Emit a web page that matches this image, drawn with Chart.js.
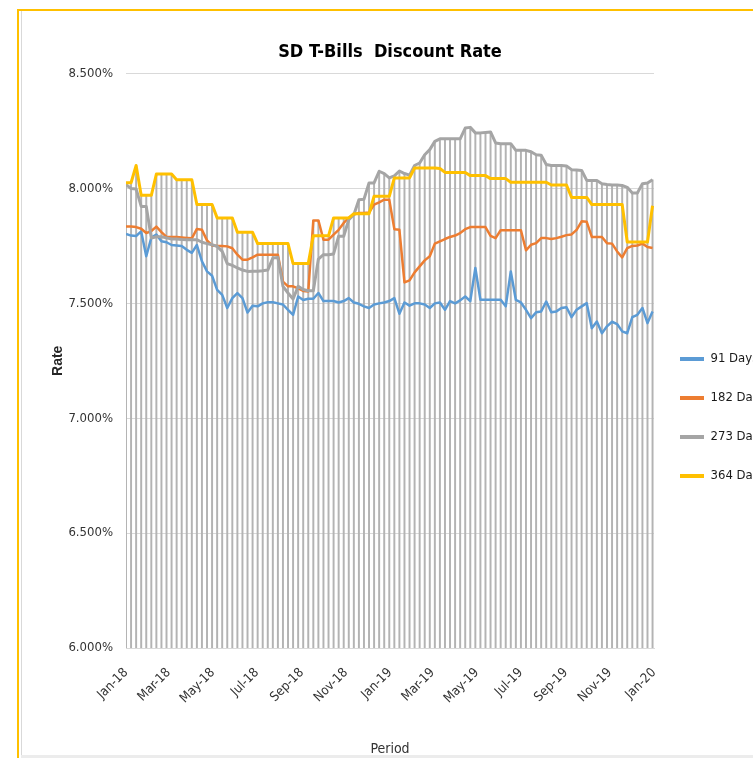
<!DOCTYPE html>
<html>
<head>
<meta charset="utf-8">
<title>SD T-Bills Discount Rate</title>
<script src="https://cdn.jsdelivr.net/npm/chart.js@4.4.1/dist/chart.umd.min.js"></script>
<style>
  html, body { margin: 0; padding: 0; width: 753px; height: 758px; overflow: hidden; background: #fff; }
  .frame { position: absolute; left: 17px; top: 9px; width: 760px; height: 760px; border-top: 2px solid #ffc000; border-left: 2px solid #ffc000; }
  .frame-inner { position: absolute; left: 2px; top: 0; bottom: 0; border-left: 1px solid #d9d9d9; }
  .frame-bottom { position: absolute; left: 21px; top: 755px; width: 740px; height: 3px; background: #ececec; }
  #chart { position: absolute; left: 0; top: 0; }
</style>
</head>
<body>
<div class="frame"><div class="frame-inner"></div></div>
<div class="frame-bottom"></div>
<canvas id="chart" width="800" height="758"></canvas>
<script>
// Weekly auction rates, Jan 2018 - Jan 2020 (percent)
const days91 = [
  7.802, 7.795, 7.793, 7.813, 7.705, 7.786, 7.80, 7.77, 7.766, 7.754,
  7.752, 7.75, 7.733, 7.72, 7.754, 7.683, 7.639, 7.62, 7.559, 7.537,
  7.48, 7.523, 7.545, 7.523, 7.46, 7.49, 7.487, 7.50, 7.505, 7.505,
  7.50, 7.495, 7.472, 7.45, 7.53, 7.515, 7.52, 7.52, 7.545, 7.51,
  7.51, 7.51, 7.504, 7.51, 7.523, 7.504, 7.498, 7.487, 7.48, 7.495,
  7.50, 7.504, 7.51, 7.523, 7.455, 7.504, 7.49, 7.50, 7.50, 7.495,
  7.48, 7.50, 7.504, 7.472, 7.51, 7.50, 7.513, 7.53, 7.51, 7.654,
  7.516, 7.516, 7.516, 7.516, 7.516, 7.487, 7.639, 7.515, 7.504, 7.472,
  7.436, 7.461, 7.465, 7.508, 7.461, 7.465, 7.48, 7.483, 7.44, 7.472,
  7.487, 7.501, 7.392, 7.421, 7.37, 7.40, 7.42, 7.41, 7.378, 7.37,
  7.44, 7.45, 7.48, 7.414, 7.465,
];
const days182 = [
  7.835, 7.835, 7.832, 7.825, 7.806, 7.815, 7.834, 7.81, 7.789, 7.789,
  7.789, 7.787, 7.785, 7.783, 7.824, 7.82, 7.774, 7.752, 7.75, 7.75,
  7.748, 7.74, 7.712, 7.69, 7.69, 7.70, 7.712, 7.712, 7.712, 7.712,
  7.712, 7.595, 7.574, 7.574, 7.565, 7.554, 7.552, 7.861, 7.861, 7.777,
  7.777, 7.799, 7.82, 7.85, 7.872, 7.886, 7.893, 7.893, 7.895, 7.93,
  7.94, 7.951, 7.951, 7.823, 7.82, 7.591, 7.60, 7.635, 7.661, 7.687,
  7.705, 7.76, 7.77, 7.78, 7.789, 7.795, 7.806, 7.823, 7.832, 7.832,
  7.832, 7.832, 7.794, 7.784, 7.818, 7.818, 7.818, 7.818, 7.818, 7.731,
  7.755, 7.762, 7.784, 7.784, 7.78, 7.784, 7.79, 7.797, 7.80, 7.82,
  7.857, 7.855, 7.789, 7.789, 7.789, 7.762, 7.76, 7.726, 7.70, 7.74,
  7.75, 7.752, 7.76, 7.745, 7.741,
];
const days273 = [
  8.017, 8.0, 7.998, 7.922, 7.922, 7.784, 7.79, 7.79, 7.785, 7.78,
  7.78, 7.778, 7.777, 7.777, 7.777, 7.766, 7.76, 7.755, 7.748, 7.726,
  7.673, 7.665, 7.654, 7.645, 7.639, 7.64, 7.64, 7.642, 7.645, 7.697,
  7.70, 7.574, 7.545, 7.519, 7.574, 7.56, 7.555, 7.555, 7.693, 7.712,
  7.712, 7.715, 7.792, 7.792, 7.864, 7.886, 7.951, 7.953, 8.024, 8.024,
  8.075, 8.065, 8.046, 8.055, 8.076, 8.065, 8.058, 8.10, 8.111, 8.147,
  8.169, 8.205, 8.216, 8.216, 8.216, 8.216, 8.216, 8.263, 8.266, 8.242,
  8.242, 8.244, 8.246, 8.198, 8.195, 8.195, 8.195, 8.166, 8.166, 8.166,
  8.16, 8.147, 8.145, 8.104, 8.10, 8.10, 8.10, 8.098, 8.082, 8.08,
  8.078, 8.035, 8.035, 8.035, 8.021, 8.017, 8.015, 8.015, 8.013, 8.005,
  7.98, 7.98, 8.021, 8.024, 8.038,
];
const days364 = [
  8.025, 8.025, 8.10, 7.97, 7.97, 7.97, 8.063, 8.063, 8.063, 8.063,
  8.038, 8.038, 8.038, 8.038, 7.93, 7.93, 7.93, 7.93, 7.872, 7.872,
  7.872, 7.872, 7.809, 7.809, 7.809, 7.809, 7.76, 7.76, 7.76, 7.76,
  7.76, 7.76, 7.76, 7.673, 7.673, 7.673, 7.673, 7.794, 7.794, 7.794,
  7.794, 7.872, 7.872, 7.872, 7.872, 7.89, 7.89, 7.89, 7.89, 7.966,
  7.966, 7.966, 7.966, 8.046, 8.046, 8.046, 8.046, 8.089, 8.089, 8.089,
  8.089, 8.089, 8.087, 8.07, 8.07, 8.07, 8.07, 8.07, 8.056, 8.056,
  8.056, 8.056, 8.043, 8.043, 8.043, 8.043, 8.027, 8.027, 8.027, 8.027,
  8.027, 8.027, 8.027, 8.027, 8.015, 8.015, 8.015, 8.015, 7.961, 7.961,
  7.961, 7.961, 7.93, 7.93, 7.93, 7.93, 7.93, 7.93, 7.93, 7.767,
  7.767, 7.767, 7.767, 7.767, 7.925,
];

// x axis: days since 1 Jan 2018, one auction per week
const weekDays = days91.map((_, i) => i * 7);
const monthDays = [0, 59, 120, 181, 243, 304, 365, 424, 485, 546, 608, 669, 730];
const monthLabels = ['Jan-18', 'Mar-18', 'May-18', 'Jul-18', 'Sep-18', 'Nov-18',
  'Jan-19', 'Mar-19', 'May-19', 'Jul-19', 'Sep-19', 'Nov-19', 'Jan-20'];

// drop lines run from the highest series down to the axis
const dropTops = weekDays.map((_, i) => Math.max(days91[i], days182[i], days273[i], days364[i]));

function lineSet(label, values, color, width, order) {
  return {
    label: label,
    data: values.map((v, i) => ({ x: weekDays[i], y: v })),
    borderColor: color,
    backgroundColor: color,
    borderWidth: width,
    pointRadius: 0,
    tension: 0,
    fill: false,
    borderJoinStyle: 'round',
    order: order,
  };
}

Chart.defaults.font.family = "'Liberation Sans Narrow', 'Arial Narrow', 'DejaVu Sans Condensed', sans-serif";
Chart.defaults.color = '#333';

const ctx = document.getElementById('chart').getContext('2d');
const chart = new Chart(ctx, {
  type: 'line',
  data: {
    datasets: [
      lineSet('91 Days', days91, '#5b9bd5', 2.5, 4),
      lineSet('182 Days', days182, '#ed7d31', 2.5, 3),
      lineSet('273 Days', days273, '#a5a5a5', 3, 2),
      lineSet('364 Days', days364, '#ffc000', 3, 1),
      {
        type: 'bar',
        label: 'drop',
        data: dropTops.map((v, i) => ({ x: weekDays[i], y: v })),
        backgroundColor: '#b3b3b3',
        borderWidth: 0,
        barThickness: 1.3,
        order: 5,
      },
    ],
  },
  options: {
    responsive: false,
    animation: false,
    layout: { padding: { left: 20, right: 36, top: 0, bottom: 0 } },
    scales: {
      x: {
        type: 'linear',
        min: 0,
        max: 730,
        offset: false,
        grid: { display: false, offset: false },
        border: { display: true, color: '#d9d9d9' },
        afterBuildTicks: (axis) => {
          axis.ticks = monthDays.map((v) => ({ value: v }));
        },
        afterFit: (axis) => {
          axis.height = 110;
        },
        ticks: {
          autoSkip: false,
          minRotation: 45,
          maxRotation: 45,
          padding: 9,
          font: { size: 13 },
          callback: (v) => monthLabels[monthDays.indexOf(v)],
        },
        title: {
          display: true,
          text: 'Period',
          font: { size: 14 },
          padding: { top: 0, bottom: 0 },
        },
      },
      y: {
        min: 6,
        max: 8.5,
        ticks: {
          stepSize: 0.5,
          padding: 13,
          font: { size: 13 },
          callback: (v) => v.toFixed(3) + '%',
        },
        grid: { color: '#d9d9d9', drawTicks: false },
        border: { display: false },
        afterFit: (axis) => {
          axis.width = 106;
        },
        title: {
          display: true,
          text: 'Rate',
          color: '#262626',
          font: { size: 14, weight: 'bold', family: "'Liberation Sans', Arial, sans-serif" },
          padding: { top: 30, bottom: 0 },
        },
      },
    },
    plugins: {
      title: {
        display: true,
        text: 'SD T-Bills  Discount Rate',
        fullSize: false,
        color: '#000',
        font: { size: 18, weight: 'bold' },
        padding: { top: 42, bottom: 10 },
      },
      legend: {
        position: 'right',
        align: 'start',
        title: { display: true, text: '', font: { size: 12 }, padding: { top: 312.1, bottom: 0 } },
        labels: {
          boxWidth: 24,
          boxHeight: 4,
          padding: 26,
          color: '#1a1a1a',
          font: { size: 13 },
          filter: (item) => item.datasetIndex < 4,
          sort: (a, b) => a.datasetIndex - b.datasetIndex,
          generateLabels: (c) =>
            Chart.defaults.plugins.legend.labels.generateLabels(c).map((l) => Object.assign(l, { lineWidth: 0 })),
        },
      },
      tooltip: { enabled: false },
    },
  },
});

// keep the plot's right edge where the legend column begins
chart.options.layout.padding.right += chart.chartArea.right - 654;
chart.update();
</script>
</body>
</html>
